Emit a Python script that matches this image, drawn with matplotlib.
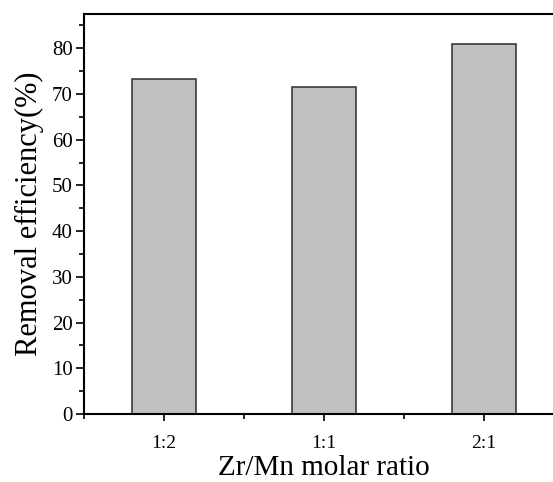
import matplotlib.pyplot as plt
from matplotlib.ticker import MultipleLocator

ratios = ["1:2", "1:1", "2:1"]
removal = [73.2, 71.5, 81.0]

plt.rcParams['font.family'] = ['Liberation Serif', 'DejaVu Serif']

fig = plt.figure(figsize=(5.53, 4.82), dpi=100)
ax = fig.add_axes([0.152, 0.141, 0.868, 0.830])

x = list(range(len(ratios)))
ax.bar(x, removal, width=0.4, color="#c0c0c0", edgecolor="#3a3a3a", linewidth=1.2)

ax.set_xlim(-0.5, 2.5)
ax.set_ylim(0, 87.5)
ax.set_xticks(x)
ax.set_xticklabels(ratios)
ax.xaxis.set_minor_locator(MultipleLocator(0.5))
ax.yaxis.set_major_locator(MultipleLocator(10))
ax.yaxis.set_minor_locator(MultipleLocator(5))

ax.tick_params(axis="y", which="major", direction="out", length=6, width=1.2, labelsize=15, pad=2)
ax.tick_params(axis="y", which="minor", direction="out", length=3.5, width=1.2)
ax.tick_params(axis="x", which="major", direction="out", length=5, width=1.2, labelsize=14, pad=10)
ax.tick_params(axis="x", which="minor", direction="out", length=3.5, width=1.2)
for s in ax.spines.values():
    s.set_linewidth(1.5)

ax.set_xlabel("Zr/Mn molar ratio", fontsize=21, labelpad=2)
ax.set_ylabel("Removal efficiency(%)", fontsize=22, labelpad=6)

fig.savefig("out.png", dpi=100)
